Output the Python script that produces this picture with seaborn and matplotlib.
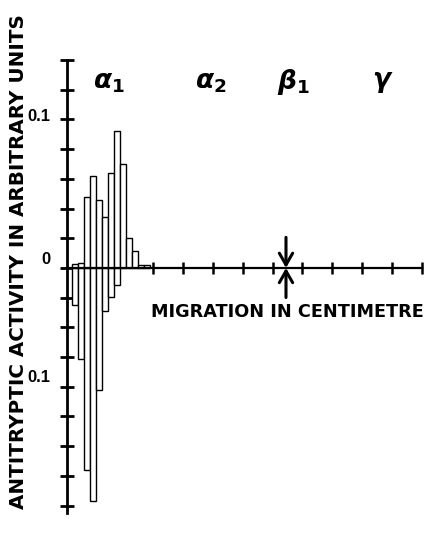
import numpy as np
import pandas as pd
import matplotlib
matplotlib.use("Agg")
import matplotlib.pyplot as plt
import seaborn as sns

# ---- data (migration in cm, activity in arbitrary units) ----
pos_centers = [0.4, 0.6, 0.8, 1.0, 1.2, 1.4, 1.6, 1.8, 2.0, 2.2, 2.4, 2.6, 2.8]
pos_values = [0.0024, 0.0034, 0.048, 0.062, 0.046, 0.034, 0.064, 0.092, 0.070,
              0.020, 0.0115, 0.002, 0.002]
neg_centers = [0.4, 0.6, 0.8, 1.0, 1.2, 1.4, 1.6, 1.8]
neg_values = [-0.025, -0.0615, -0.136, -0.157, -0.082, -0.029, -0.0196, -0.0118]

band_labels = [r"$\alpha_1$", r"$\alpha_2$", r"$\beta_1$", r"$\gamma$"]
band_x = [1.53, 4.94, 7.68, 10.7]
marker_x = 7.45
x_ticks = [3, 4, 5, 6, 7, 8, 9, 10, 11, 12]
y_ticks = [-0.16, -0.14, -0.12, -0.10, -0.08, -0.06, -0.04, -0.02, 0.0,
           0.02, 0.04, 0.06, 0.08, 0.10, 0.12, 0.14]

sns.set_theme(style="white")
plt.rcParams["font.family"] = ["DejaVu Sans"]
plt.rcParams["text.color"] = "black"
plt.rcParams["mathtext.fontset"] = "custom"
plt.rcParams["mathtext.it"] = "DejaVu Sans:italic:bold"
plt.rcParams["mathtext.rm"] = "DejaVu Sans:bold"
plt.rcParams["mathtext.default"] = "it"

W, H = 436, 534
fig = plt.figure(figsize=(W / 100, H / 100), dpi=100)
ax = fig.add_axes([67 / W, (H - 513) / H, 355 / W, 453 / H])
ax.set_facecolor("none")

df_pos = pd.DataFrame({"x": pos_centers, "y": pos_values})
df_neg = pd.DataFrame({"x": neg_centers, "y": neg_values})
for d in (df_pos, df_neg):
    sns.barplot(data=d, x="x", y="y", native_scale=True, width=1.0,
                color="white", edgecolor="black", linewidth=1.0,
                errorbar=None, ax=ax, zorder=3)

ax.set_xlim(0.124, 12)
ax.set_ylim(-0.165, 0.14)
ax.set_xlabel("")
ax.set_ylabel("")

for s in ("top", "right"):
    ax.spines[s].set_visible(False)
ax.spines["bottom"].set_position(("data", 0))
ax.spines["bottom"].set_linewidth(1.6)
ax.spines["left"].set_linewidth(2.0)
ax.spines["bottom"].set_color("black")
ax.spines["left"].set_color("black")
ax.spines["bottom"].set_zorder(4)

ax.set_xticks(x_ticks)
ax.set_xticklabels([])
ax.set_yticks(y_ticks)
ax.set_yticklabels([])
ax.tick_params(axis="x", direction="inout", length=8, width=1.8, color="black",
               bottom=True)
ax.tick_params(axis="y", direction="inout", length=10, width=2.0, color="black",
               left=True)
for t in ax.xaxis.get_major_ticks() + ax.yaxis.get_major_ticks():
    t.tick1line.set_clip_on(False)

# y value labels
lab_kw = dict(ha="right", va="center", fontsize=12, fontweight="bold",
              family=["Liberation Sans", "DejaVu Sans"],
              color="black", clip_on=False)
ax.text(-0.42, 0.1017, "0.1", **lab_kw)
ax.text(-0.42, 0.0057, "0", **lab_kw)
ax.text(-0.42, -0.074, "0.1", **lab_kw)

# band labels
for lab, bx in zip(band_labels, band_x):
    ax.text(bx, 0.1253, lab, ha="center", va="center", fontsize=19,
            color="black")

# start marker (arrows converging on the axis)
for y0 in (0.0206, -0.0199):
    ax.annotate("", xy=(marker_x, 0), xytext=(marker_x, y0),
                arrowprops=dict(arrowstyle="->,head_length=0.7,head_width=0.4",
                                lw=2.2, color="black", shrinkA=0, shrinkB=0))

ax.text(7.51, -0.0297, "MIGRATION IN CENTIMETRE", ha="center", va="center",
        fontsize=12.7, fontweight="bold", color="black")

fig.text(19 / W, 1 - 261.5 / H, "ANTITRYPTIC ACTIVITY IN ARBITRARY UNITS",
         rotation=90, ha="center", va="center", fontsize=14.3,
         fontweight="bold", color="black")

fig.savefig("out.png", dpi=100)
